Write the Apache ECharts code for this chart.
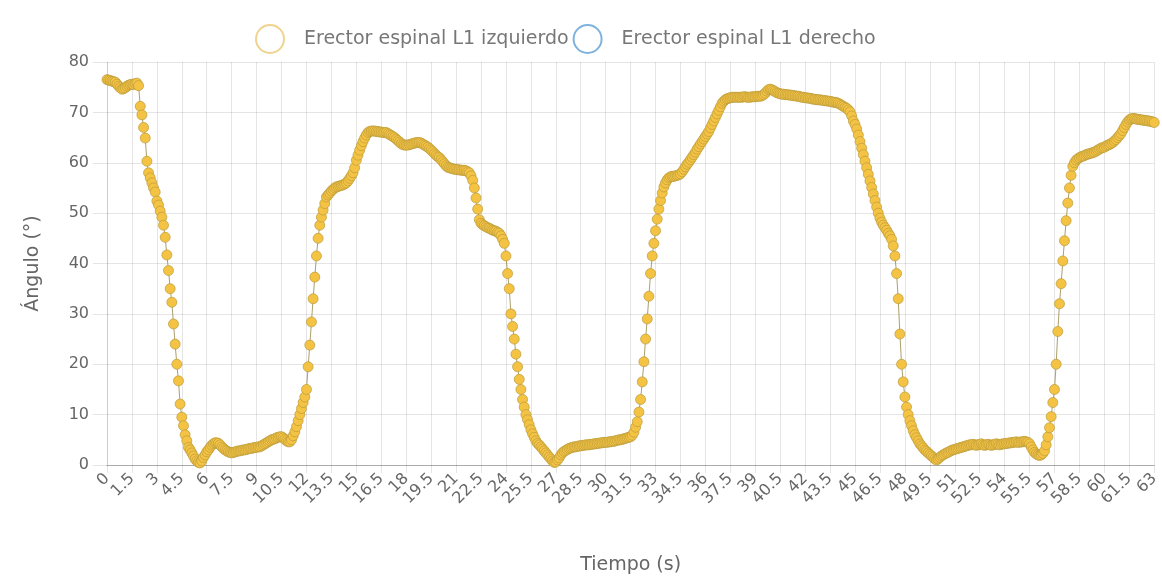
<!DOCTYPE html>
<html><head><meta charset="utf-8">
<script src="https://cdn.jsdelivr.net/npm/echarts@6/dist/echarts.min.js"></script>
<style>html,body{margin:0;padding:0;background:#fff}#c{width:1162px;height:583px}</style>
</head><body><div id="c"></div>
<script>
const seriesNames = ['Erector espinal L1 izquierdo', 'Erector espinal L1 derecho'];
const xAxisTitle = 'Tiempo (s)';
const yAxisTitle = 'Ángulo (°)';
const timeStep = 0.1; // seconds between samples
const izquierdo = [
76.5,76.4,76.3,76.2,76.1,76.0,75.6,75.2,74.9,74.6,
74.7,74.9,75.2,75.4,75.5,75.6,75.5,75.7,75.8,75.3,
71.2,69.5,67.0,64.9,60.3,58.0,57.0,56.0,55.0,54.2,
52.4,51.6,50.4,49.2,47.6,45.2,41.7,38.6,35.0,32.3,
28.0,24.0,20.0,16.7,12.1,9.5,7.8,6.0,4.8,3.5,
3.0,2.4,1.8,1.2,0.8,0.5,0.4,0.8,1.5,2.0,
2.6,3.0,3.5,3.9,4.2,4.4,4.4,4.3,4.0,3.6,
3.3,3.0,2.8,2.6,2.5,2.4,2.5,2.6,2.7,2.8,
2.8,2.9,3.0,3.0,3.1,3.2,3.3,3.3,3.4,3.5,
3.5,3.6,3.6,3.8,4.0,4.2,4.4,4.6,4.8,5.0,
5.1,5.2,5.4,5.5,5.6,5.6,5.4,5.1,4.8,4.6,
4.6,5.0,5.8,6.6,7.6,8.8,10.0,11.2,12.4,13.5,
15.0,19.5,23.8,28.4,33.0,37.3,41.5,45.0,47.6,49.2,
50.6,51.9,53.2,53.6,54.0,54.4,54.7,55.0,55.2,55.3,
55.4,55.5,55.6,55.8,56.0,56.4,56.9,57.4,58.0,59.0,
60.5,61.5,62.5,63.4,64.2,64.9,65.5,66.0,66.2,66.3,
66.3,66.3,66.2,66.2,66.1,66.1,66.0,66.0,66.0,65.8,
65.6,65.4,65.2,65.0,64.7,64.4,64.1,63.8,63.6,63.5,
63.5,63.5,63.6,63.7,63.8,63.9,64.0,64.0,64.0,63.9,
63.7,63.5,63.3,63.1,62.8,62.5,62.2,61.8,61.5,61.2,
61.0,60.6,60.2,59.8,59.4,59.1,59.0,58.9,58.8,58.7,
58.7,58.6,58.6,58.5,58.5,58.5,58.4,58.2,58.0,57.4,
56.5,55.0,53.0,50.8,48.7,48.0,47.7,47.5,47.3,47.1,
47.0,46.8,46.6,46.5,46.4,46.2,46.0,45.5,44.8,44.0,
41.5,38.0,35.0,30.0,27.5,25.0,22.0,19.5,17.0,15.0,
13.0,11.5,10.0,9.0,8.0,7.0,6.2,5.5,4.8,4.3,
4.0,3.6,3.2,2.8,2.4,2.0,1.6,1.2,0.8,0.5,
0.6,1.0,1.4,2.0,2.4,2.7,2.9,3.1,3.3,3.4,
3.5,3.6,3.6,3.7,3.8,3.8,3.9,3.9,4.0,4.0,
4.0,4.1,4.1,4.2,4.2,4.3,4.3,4.4,4.4,4.5,
4.5,4.5,4.6,4.6,4.7,4.7,4.8,4.9,5.0,5.0,
5.1,5.2,5.3,5.4,5.5,5.6,5.9,6.5,7.5,8.6,
10.5,13.0,16.5,20.5,25.0,29.0,33.5,38.0,41.5,44.0,
46.5,48.8,50.8,52.5,54.0,55.2,56.0,56.6,57.0,57.2,
57.3,57.3,57.4,57.5,57.6,57.8,58.2,58.7,59.2,59.7,
60.1,60.6,61.1,61.6,62.1,62.7,63.2,63.7,64.2,64.7,
65.2,65.7,66.2,66.9,67.6,68.3,69.0,69.7,70.4,71.1,
71.8,72.2,72.5,72.7,72.8,72.9,73.0,73.0,73.0,73.0,
73.0,73.0,73.0,73.1,73.1,73.0,73.0,73.0,73.1,73.1,
73.1,73.2,73.2,73.2,73.3,73.5,73.8,74.2,74.5,74.6,
74.5,74.3,74.1,73.9,73.8,73.7,73.6,73.6,73.5,73.5,
73.5,73.4,73.4,73.3,73.3,73.2,73.2,73.1,73.0,73.0,
72.9,72.9,72.8,72.8,72.7,72.6,72.6,72.5,72.5,72.5,
72.4,72.4,72.3,72.3,72.2,72.2,72.1,72.0,72.0,71.9,
71.8,71.6,71.4,71.2,71.0,70.8,70.5,70.1,69.3,68.3,
67.6,66.7,65.5,64.2,62.9,61.6,60.3,59.0,57.7,56.4,
55.1,53.8,52.5,51.2,50.0,49.0,48.2,47.6,47.1,46.6,
46.0,45.5,44.8,43.5,41.5,38.0,33.0,26.0,20.0,16.5,
13.5,11.5,10.0,8.8,7.8,6.8,6.0,5.4,4.8,4.2,
3.8,3.4,3.0,2.7,2.4,2.1,1.8,1.5,1.2,1.0,
1.2,1.5,1.8,2.0,2.2,2.4,2.5,2.7,2.9,3.0,
3.1,3.2,3.3,3.4,3.5,3.6,3.7,3.8,3.9,4.0,
4.0,4.1,4.0,3.9,4.0,4.1,4.2,4.0,3.9,4.0,
4.1,4.0,3.9,4.0,4.1,4.2,4.1,4.0,4.1,4.2,
4.2,4.3,4.3,4.4,4.4,4.5,4.5,4.6,4.5,4.5,
4.6,4.6,4.7,4.6,4.5,4.2,3.6,3.0,2.5,2.2,
2.0,1.9,2.0,2.3,2.8,4.0,5.6,7.4,9.6,12.4,
15.0,20.0,26.5,32.0,36.0,40.5,44.5,48.5,52.0,55.0,
57.5,59.3,60.0,60.5,60.8,61.0,61.2,61.3,61.4,61.6,
61.7,61.8,61.9,62.0,62.1,62.3,62.5,62.7,62.9,63.0,
63.1,63.3,63.5,63.6,63.8,64.0,64.3,64.6,65.0,65.4,
65.8,66.4,67.0,67.6,68.1,68.5,68.7,68.8,68.8,68.7,
68.6,68.6,68.5,68.5,68.4,68.4,68.3,68.3,68.2,68.1,
68.0
];
const derecho = [];
const xMin = 0, xMax = 63, xInterval = 1.5;
const yMin = 0, yMax = 80, yInterval = 10;

const pairs = izquierdo.map((v, i) => [+(i * timeStep).toFixed(1), v]);
const FONT = "'DejaVu Sans', 'Liberation Sans', Arial, sans-serif";
const chart = echarts.init(document.getElementById('c'), null, {renderer: 'canvas'});
chart.setOption({
  animation: false,
  backgroundColor: '#fff',
  textStyle: {fontFamily: FONT},
  legend: {
    top: 19, left: 250, itemWidth: 58, itemHeight: 28, itemGap: 4,
    textStyle: {color: '#777', fontSize: 19, fontFamily: FONT},
    data: [
      {name: seriesNames[0], icon: 'circle', itemStyle: {color: 'rgba(0,0,0,0)', borderColor: '#F0D38E', borderWidth: 2}},
      {name: seriesNames[1], icon: 'circle', itemStyle: {color: 'rgba(0,0,0,0)', borderColor: '#7FB3DD', borderWidth: 2}}
    ]
  },
  grid: {left: 107, right: 4, top: 62, bottom: 118, containLabel: false},
  xAxis: {
    type: 'value', min: xMin, max: xMax, interval: xInterval,
    name: xAxisTitle, nameLocation: 'middle', nameGap: 91,
    nameTextStyle: {color: '#666', fontSize: 19, fontFamily: FONT},
    axisLine: {show: true, lineStyle: {color: 'rgba(0,0,0,0.25)', width: 1}},
    axisTick: {show: true, length: 8, lineStyle: {color: 'rgba(0,0,0,0.1)'}},
    axisLabel: {rotate: 45, color: '#666', fontSize: 16, margin: 11, fontFamily: FONT,
      showMinLabel: true, showMaxLabel: true, hideOverlap: false,
      formatter: v => String(+v.toFixed(1))},
    splitLine: {show: true, lineStyle: {color: 'rgba(0,0,0,0.1)', width: 1}}
  },
  yAxis: {
    type: 'value', min: yMin, max: yMax, interval: yInterval,
    name: yAxisTitle, nameLocation: 'middle', nameGap: 64,
    nameTextStyle: {color: '#666', fontSize: 19, fontFamily: FONT},
    axisLine: {show: true, lineStyle: {color: 'rgba(0,0,0,0.1)'}},
    axisTick: {show: true, length: 14, lineStyle: {color: 'rgba(0,0,0,0.1)'}},
    axisLabel: {color: '#666', fontSize: 16, margin: 18, fontFamily: FONT},
    splitLine: {show: true, lineStyle: {color: 'rgba(0,0,0,0.1)', width: 1}}
  },
  series: [
    {
      name: seriesNames[0], type: 'line', data: pairs,
      symbol: 'circle', symbolSize: 10, showAllSymbol: true,
      lineStyle: {color: 'rgba(150,135,70,0.8)', width: 1},
      itemStyle: {color: '#F5C343', borderColor: 'rgba(185,155,60,0.7)', borderWidth: 1}
    },
    {
      name: seriesNames[1], type: 'line', data: derecho,
      symbol: 'circle', symbolSize: 10,
      lineStyle: {color: '#7FB3DD', width: 1},
      itemStyle: {color: '#7FB3DD'}
    }
  ]
});
</script>
</body></html>
